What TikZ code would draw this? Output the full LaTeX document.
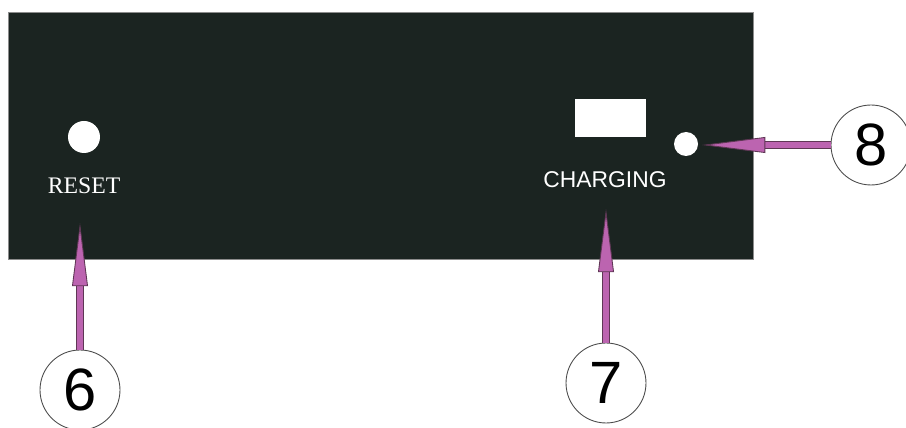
\documentclass[tikz,border=0pt]{standalone}
\usepackage{fontspec}
\setmainfont{Liberation Sans}
\newfontfamily\labelserif{Liberation Serif}
\usetikzlibrary{arrows.meta}

\definecolor{panelgreen}{RGB}{27,36,33}
\definecolor{arrowpink}{RGB}{188,100,176}
\definecolor{arrowedge}{RGB}{95,55,85}

\tikzset{
  hole/.style={circle, fill=white, inner sep=0pt},
  callout/.style={circle, draw=black!70, fill=white, line width=0.5pt,
    minimum size=1.6cm, inner sep=0pt, font=\fontsize{34}{34}\selectfont},
  pointer/.style={draw=arrowpink, line width=3.4pt,
    -{Triangle[length=36pt, width=9pt, color=arrowedge, fill=arrowpink, line width=0.5pt]},
    preaction={draw=arrowedge, line width=4.4pt, -, shorten >=34pt}},
}

\begin{document}
\begin{tikzpicture}[x=0.02cm, y=-0.02cm]
  \clip (0,0) rectangle (906,428);
  % front panel
  \fill[panelgreen, draw=black!45, line width=0.4pt] (8,12) rectangle (753,259);
  % reset button
  \node[hole, minimum size=0.64cm] (resetbtn) at (84,137) {};
  \node[text=white, font=\labelserif\fontsize{13.5}{15}\selectfont] (resetlbl) at (84,186) {RESET};
  % charging window and lamp
  \node[fill=white, minimum width=1.42cm, minimum height=0.76cm, inner sep=0pt] (chargewin) at (610.5,118) {};
  \node[hole, minimum size=0.48cm] (chargeled) at (686,144) {};
  \node[text=white, font=\fontsize{13}{15}\selectfont] (chargelbl) at (605,180) {CHARGING};
  % callouts
  \node[callout] (num6) at (80,390) {6};
  \node[callout] (num7) at (606,383) {7};
  \node[callout] (num8) at (871,145) {8};
  \coordinate (tip6) at (80,223);
  \coordinate (tip7) at (606,209);
  \coordinate (tip8) at (702,145);
  \draw[pointer] (num6) -- (tip6);
  \draw[pointer] (num7) -- (tip7);
  \draw[pointer] (num8) -- (tip8);
\end{tikzpicture}
\end{document}
